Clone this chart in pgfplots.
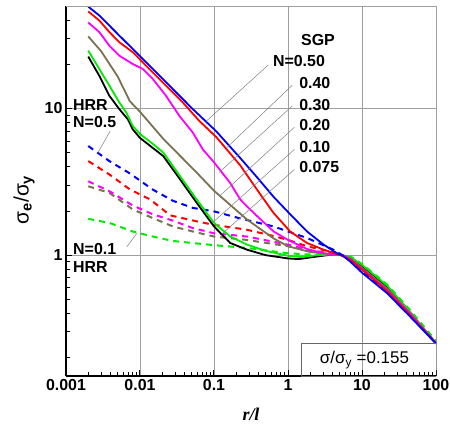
\documentclass[border=0pt]{standalone}
\usepackage{pgfplots}
\pgfplotsset{compat=1.18}
\usepackage{fontspec}
\setmainfont{Liberation Sans}
\newfontfamily\timesfont{Liberation Serif}

\definecolor{cblue}{RGB}{0,0,255}
\definecolor{cred}{RGB}{255,0,0}
\definecolor{cmag}{RGB}{255,0,255}
\definecolor{colive}{RGB}{122,114,80}
\definecolor{cgreen}{RGB}{0,235,0}

\newcommand{\lab}{\fontsize{16}{19}\selectfont\bfseries}

\begin{document}
\begin{tikzpicture}
\begin{axis}[
  at={(0,0)}, anchor=south west,
  scale only axis, width=370bp, height=370bp,
  xmode=log, ymode=log,
  xmin=0.001, xmax=100, ymin=0.15, ymax=50,
  axis x line*=bottom, axis y line*=left,
  axis line style={-, line width=1.8bp, black},
  tick align=inside,
  major tick length=6bp, minor tick length=4bp,
  tick style={black, line width=1bp},
  xtick={0.001,0.01,0.1,1,10,100},
  xticklabels={0.001,0.01,0.1,1,10,100},
  minor xtick={0.002,0.003,0.004,0.005,0.006,0.007,0.008,0.009,
               0.02,0.03,0.04,0.05,0.06,0.07,0.08,0.09,
               0.2,0.3,0.4,0.5,0.6,0.7,0.8,0.9,
               2,3,4,5,6,7,8,9,20,30,40,50,60,70,80,90},
  ytick={1,10}, yticklabels={1,10},
  minor ytick={0.2,0.3,0.4,0.5,0.6,0.7,0.8,0.9,2,3,4,5,6,7,8,9,20,30,40,50},
  tick label style={font=\lab},
  grid=major, major grid style={gray!75, line width=0.8bp},
  xlabel={r/l},
  ylabel={σ\textsubscript{\bfseries e}/σ\textsubscript{\bfseries y}},
  every axis x label/.style={at={(rel axis cs:0.5,-0.105)}, anchor=center,
    font=\fontsize{18}{21}\selectfont\timesfont\bfseries\itshape},
  every axis y label/.style={at={(rel axis cs:-0.1135,0.476)}, rotate=90, anchor=center,
    font=\fontsize{21}{24}\selectfont},
]
% HRR (dashed)
\addplot[cgreen, line width=2bp, dash pattern=on 6bp off 5bp] coordinates {
 (0.002,1.77)(0.00386,1.66)(0.008,1.45)(0.0149,1.34)(0.0278,1.25)(0.0518,1.21)
 (0.1,1.17)(0.279,1.12)(1.0,1.03)(2,1.01)(5.4,1.0)(7,0.98)(10,0.87)(21.9,0.63)(45,0.42)(100,0.26)};
\addplot[colive, line width=2bp, dash pattern=on 6bp off 5bp] coordinates {
 (0.002,2.95)(0.00386,2.66)(0.008,2.05)(0.0149,1.79)(0.0278,1.57)(0.0518,1.45)
 (0.1,1.34)(0.279,1.27)(1.0,1.15)(2,1.07)(5.4,1.0)(7,0.95)(10,0.82)(21.9,0.6)(45,0.4)(100,0.25)};
\addplot[cmag, line width=2bp, dash pattern=on 6bp off 5bp] coordinates {
 (0.002,3.19)(0.00386,2.73)(0.008,2.18)(0.0149,1.9)(0.0278,1.72)(0.0518,1.53)
 (0.1,1.41)(0.279,1.34)(1.0,1.18)(2,1.08)(5.4,1.0)(7,0.95)(10,0.82)(21.9,0.59)(45,0.4)(100,0.25)};
\addplot[cred, line width=2bp, dash pattern=on 6bp off 5bp] coordinates {
 (0.002,4.38)(0.00386,3.55)(0.00735,2.8)(0.0137,2.4)(0.0255,1.87)(0.0586,1.7)
 (0.1,1.61)(0.279,1.49)(0.64,1.35)(1.0,1.27)(1.81,1.15)(4,1.05)(5.4,1.0)(7,0.94)(10,0.8)(21.9,0.58)(45,0.39)(100,0.25)};
\addplot[cblue, line width=2bp, dash pattern=on 6bp off 5bp] coordinates {
 (0.002,5.55)(0.00386,4.38)(0.00735,3.6)(0.0149,2.8)(0.0278,2.35)(0.0518,2.1)
 (0.1,1.99)(0.226,1.78)(0.64,1.57)(1.0,1.45)(1.81,1.31)(4.1,1.09)(5.4,1.0)(7,0.92)(10,0.78)(21.9,0.56)(45,0.385)(100,0.25)};
% SGP (solid)
\addplot[black, line width=1.8bp] coordinates {
 (0.002,22.6)(0.00282,16.7)(0.00386,12.2)(0.00526,9.9)(0.00684,8.45)(0.008,7.2)(0.01,6.3)
 (0.0207,4.73)(0.0349,3.28)(0.0586,2.27)(0.1,1.57)(0.166,1.21)(0.279,1.09)(0.5,1.0)
 (1.0,0.95)(1.4,0.94)(2.5,0.98)(4,1.01)(5.4,1.0)(7,0.96)(10,0.84)(21.9,0.61)(45,0.4)(100,0.25)};
\addplot[cgreen, line width=1.8bp] coordinates {
 (0.002,24.8)(0.00282,18.6)(0.00386,14.3)(0.00526,11.0)(0.0065,9.4)(0.008,7.6)(0.01,6.7)
 (0.0152,5.7)(0.0207,5.0)(0.0349,3.45)(0.0586,2.39)(0.1,1.66)(0.166,1.34)(0.279,1.18)(0.5,1.07)
 (1.0,0.99)(1.5,0.97)(2.5,1.0)(4,1.01)(5.4,1.0)(7,0.97)(10,0.86)(21.9,0.62)(45,0.41)(100,0.25)};
\addplot[colive, line width=1.8bp] coordinates {
 (0.002,31)(0.003,24.5)(0.005,16.5)(0.0073,11.2)(0.01,9.5)(0.0207,6.2)(0.0586,3.65)
 (0.1,2.75)(0.279,1.75)(0.64,1.3)(1.0,1.15)(2,1.05)(5.4,1.0)(7,0.95)(10,0.82)(21.9,0.59)(45,0.4)(100,0.25)};
\addplot[cmag, line width=1.8bp] coordinates {
 (0.002,38.6)(0.00282,33.2)(0.00386,26.8)(0.00526,22.9)(0.008,20.1)(0.0109,18.6)(0.0149,15.9)
 (0.0225,12.2)(0.0341,8.9)(0.0518,6.85)(0.0707,5.26)(0.1,4.3)(0.166,3.1)(0.226,2.4)(0.279,2.15)
 (0.381,1.85)(0.64,1.45)(1.0,1.27)(1.81,1.1)(3,1.03)(5.4,1.0)(7,0.94)(10,0.81)(21.9,0.58)(45,0.4)(100,0.25)};
\addplot[cred, line width=1.8bp] coordinates {
 (0.002,45.9)(0.00282,39.8)(0.00386,33.2)(0.00526,28.3)(0.008,24.2)(0.0134,18.6)(0.0225,14.3)
 (0.0379,11.0)(0.0637,8.2)(0.107,6.4)(0.226,4.1)(0.381,2.8)(0.638,1.94)(1.07,1.45)(1.81,1.21)
 (3.03,1.09)(5.1,1.0)(7,0.93)(10,0.8)(21.9,0.57)(45,0.39)(100,0.25)};
\addplot[cblue, line width=1.8bp] coordinates {
 (0.002,49.5)(0.00282,43.1)(0.00526,31.4)(0.0109,21.8)(0.0225,15.1)(0.0518,9.9)(0.107,7.0)
 (0.226,4.6)(0.381,3.4)(0.638,2.5)(1.07,1.9)(1.81,1.45)(3.03,1.18)(4.6,1.03)(5.4,1.0)
 (7,0.9)(10,0.76)(21.9,0.55)(45,0.38)(100,0.25)};

% border top/right
\draw[gray!75, line width=0.8bp] (rel axis cs:0,1) -- (rel axis cs:1,1) -- (rel axis cs:1,0);

% SGP labels and leaders
\node[font=\lab] at (rel axis cs:0.681,0.908) {SGP};
\node[font=\lab, anchor=west, inner sep=0pt] at (rel axis cs:0.559,0.851) {N=0.50};
\node[font=\lab, anchor=west, inner sep=0pt] at (rel axis cs:0.630,0.792) {0.40};
\node[font=\lab, anchor=west, inner sep=0pt] at (rel axis cs:0.630,0.732) {0.30};
\node[font=\lab, anchor=west, inner sep=0pt] at (rel axis cs:0.630,0.678) {0.20};
\node[font=\lab, anchor=west, inner sep=0pt] at (rel axis cs:0.630,0.620) {0.10};
\node[font=\lab, anchor=west, inner sep=0pt] at (rel axis cs:0.630,0.566) {0.075};
\draw[gray, line width=0.5bp] (axis cs:0.541,19.8) -- (axis cs:0.0783,8.18);
\draw[gray, line width=0.5bp] (axis cs:1.14,14.4) -- (axis cs:0.150,5.43);
\draw[gray, line width=0.5bp] (axis cs:1.14,10.4) -- (axis cs:0.117,3.66);
\draw[gray, line width=0.5bp] (axis cs:1.22,7.45) -- (axis cs:0.121,2.55);
\draw[gray, line width=0.5bp] (axis cs:1.22,5.26) -- (axis cs:0.0946,1.66);
\draw[gray, line width=0.5bp] (axis cs:1.22,3.84) -- (axis cs:0.129,1.4);

% HRR labels and leaders
\node[font=\lab, anchor=west, inner sep=0pt] at (rel axis cs:0.019,0.732) {HRR};
\node[font=\lab, anchor=west, inner sep=0pt] at (rel axis cs:0.019,0.687) {N=0.5};
\node[font=\lab, anchor=west, inner sep=0pt] at (rel axis cs:0.019,0.344) {N=0.1};
\node[font=\lab, anchor=west, inner sep=0pt] at (rel axis cs:0.019,0.295) {HRR};
\draw[gray, line width=0.5bp] (axis cs:0.00394,7.0) -- (axis cs:0.0027,5.0);
\draw[gray, line width=0.5bp] (axis cs:0.00663,1.14) -- (axis cs:0.00906,1.41);

% stress box
\draw[gray!80!black, line width=0.6bp] (axis cs:1.51,0.252) rectangle (axis cs:100,0.15);
\node[font=\fontsize{17}{20}\selectfont] at (axis cs:10.8,0.192) {σ/σ\textsubscript{y} =0.155};
\end{axis}
\pgfresetboundingbox
\path[use as bounding box] (-66bp,-49bp) rectangle (384bp,376bp);
\end{tikzpicture}
\end{document}
